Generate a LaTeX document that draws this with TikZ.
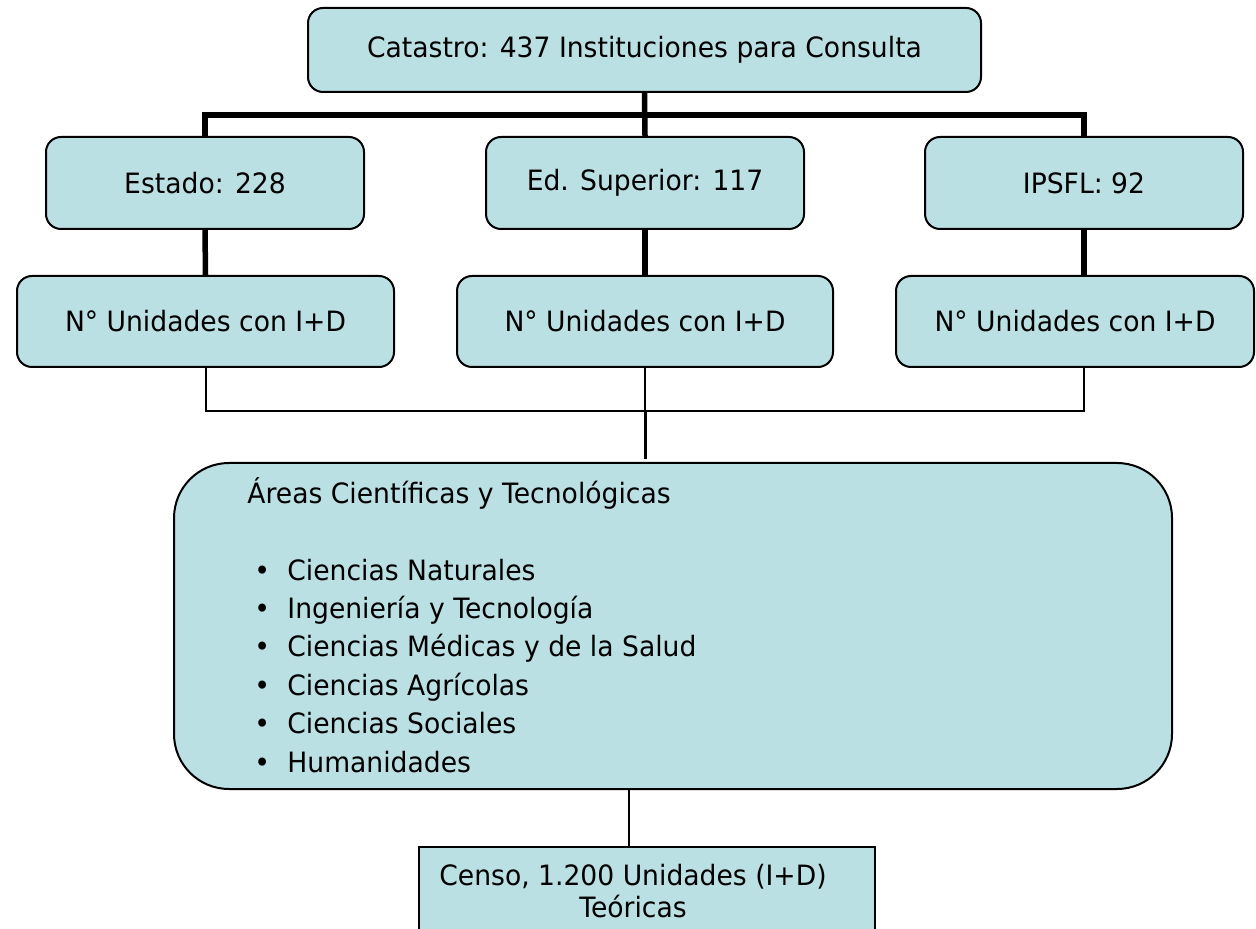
\documentclass[tikz,border=0pt]{standalone}
\usepackage{fontspec}
\setmainfont{DejaVu Sans}[FakeStretch=0.95]
\definecolor{boxfill}{HTML}{BBE0E3}
\begin{document}
\begin{tikzpicture}[x=0.5pt,y=-0.5pt,
  every node/.style={font=\fontsize{14}{16}\selectfont, text=black},
  box/.style={draw=black, fill=boxfill, line width=1pt, rounded corners=7.5pt, inner sep=0pt, align=center},
  sqbox/.style={draw=black, fill=boxfill, line width=1pt, inner sep=0pt, align=center},
  bigbox/.style={draw=black, fill=boxfill, line width=1pt, rounded corners=27.5pt, inner sep=0pt},
  buslink/.style={line width=3pt},
  thicklink/.style={line width=2.75pt},
  thinlink/.style={line width=1pt},
  medlink/.style={line width=1.5pt},
  hairlink/.style={line width=0.6pt},
  txt/.style={anchor=base west, inner sep=0pt}
]
\useasboundingbox (0,0) rectangle (1256,929);
\clip (0,0) rectangle (1256,929);

% boxes
\node[box, minimum width=336.5pt, minimum height=42pt] (top) at (644.5,50) {Catastro: 437 Instituciones para Consulta};
\node[box, minimum width=159pt, minimum height=46pt] (est) at (205,183) {Estado: 228};
\node[box, minimum width=159pt, minimum height=46pt] (sup) at (645,183) {Ed. Superior: 117};
\node[box, minimum width=159pt, minimum height=46pt] (ips) at (1084,183) {IPSFL: 92};
\node[box, minimum width=188.5pt, minimum height=45.5pt] (n1) at (205.5,321.5) {N° Unidades con I+D};
\node[box, minimum width=188pt, minimum height=45.5pt] (n2) at (645,321.5) {N° Unidades con I+D};
\node[box, minimum width=179pt, minimum height=45.5pt] (n3) at (1075,321.5) {N° Unidades con I+D};
\node[bigbox, minimum width=499pt, minimum height=163pt] (areas) at (673,626) {};
\node[sqbox, minimum width=228pt, minimum height=46.5pt] (censo) at (647,893.5) {};
\node[align=center, inner sep=0pt] (censoT) at (633,891) {Censo, 1.200 Unidades (I+D)\\Teóricas};

% text inside the areas box
\node[txt] (t0) at (247,503) {Áreas Científicas y Tecnológicas};
\foreach \t [count=\i] in {Ciencias Naturales, Ingeniería y Tecnología, Ciencias Médicas y de la Salud, Ciencias Agrícolas, Ciencias Sociales, Humanidades}{
  \node[txt] (b\i) at (254,{580+38.4*(\i-1)}) {•};
  \node[txt] (i\i) at (287,{580+38.4*(\i-1)}) {\t};
}

% coordinates for buses
\coordinate (busT) at (645,115);
\coordinate (busB) at (645,411);
\coordinate (areasIn) at (645,459);
\coordinate (cx) at (629,0);

% thick upper connectors
\draw[thicklink] (top.south) -- (sup.north);
\draw[buslink] (est.north) -- (est.north |- busT) -- (busT -| ips.north) -- (ips.north);
\draw[thicklink] (est.south) -- (n1.north);
\draw[thicklink] (sup.south) -- (n2.north);
\draw[thicklink] (ips.south) -- (ips.south |- n3.north);

% thin lower connectors
\draw[thinlink] (n1.south) -- (n1.south |- busB) -- (busB -| ips.south) -- (ips.south |- n3.south);
\draw[thinlink] (n2.south) -- (busB);
\draw[medlink] (busB) -- (areasIn);
\draw[hairlink] (areas.south -| cx) -- (censo.north -| cx);
\end{tikzpicture}
\end{document}
